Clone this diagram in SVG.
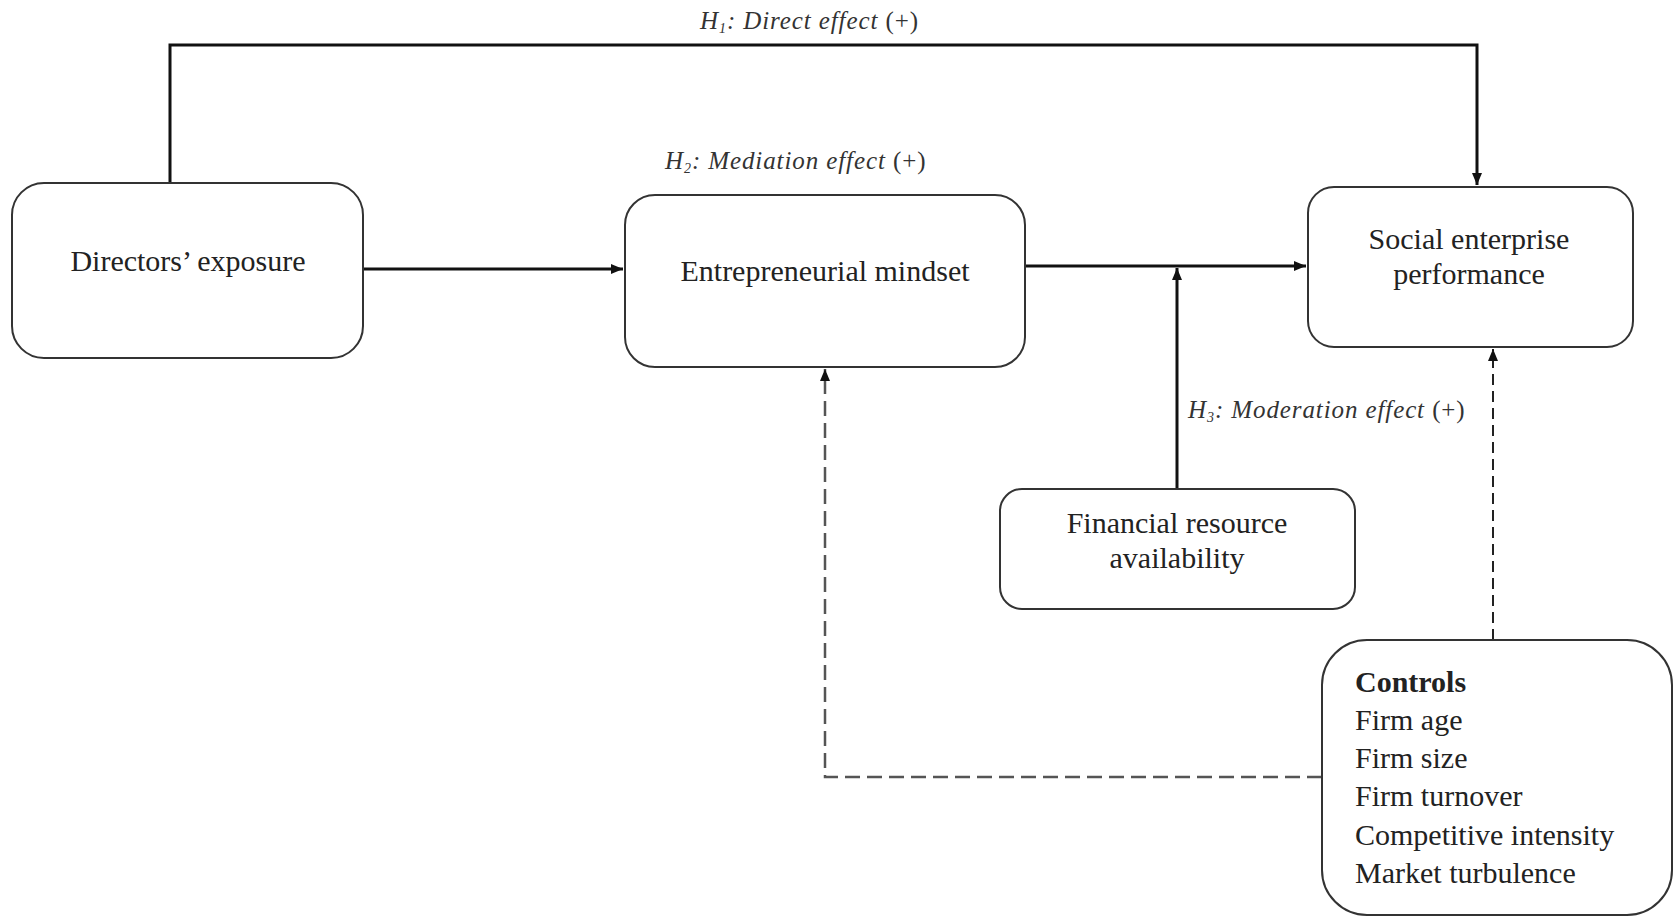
<svg xmlns="http://www.w3.org/2000/svg" width="1674" height="921" viewBox="0 0 1674 921">
<style>
.box{fill:#fff;stroke:#333;stroke-width:2}
.t{font-family:"Liberation Serif","Times New Roman",serif;font-size:30px;fill:#222}
.lab{font-family:"Liberation Serif","Times New Roman",serif;font-size:25px;fill:#333;font-style:italic;letter-spacing:0.9px}
.up{font-style:normal}
.solid{fill:none;stroke:#111;stroke-width:3}
.dash{fill:none;stroke:#555;stroke-width:2.5;stroke-dasharray:15 7}
.dash2{fill:none;stroke:#222;stroke-width:2;stroke-dasharray:11 6}
</style>
<defs>
<marker id="ah" viewBox="0 0 12 10" refX="12" refY="5" markerWidth="12" markerHeight="10" markerUnits="userSpaceOnUse" orient="auto">
<path d="M0,0 L12,5 L0,10 z" fill="#111"/>
</marker>
</defs>
<rect width="1674" height="921" fill="#fff"/>
<g id="connectors">
<path class="solid" d="M170,183 V45 H1477 V185" marker-end="url(#ah)"/>
<path class="solid" d="M363,269 H623" marker-end="url(#ah)"/>
<path class="solid" d="M1025,266 H1306" marker-end="url(#ah)"/>
<path class="solid" d="M1177,489 V268" marker-end="url(#ah)"/>
<path class="dash" d="M1322,777 H825 V369" marker-end="url(#ah)"/>
<path class="dash2" d="M1493,640 V349" marker-end="url(#ah)"/>
</g>
<g id="labels">
<text class="lab" x="700" y="29">H<tspan font-size="14" dy="4">1</tspan><tspan dy="-4">: Direct effect </tspan><tspan class="up">(+)</tspan></text>
<text class="lab" x="665" y="169">H<tspan font-size="14" dy="4">2</tspan><tspan dy="-4">: Mediation effect </tspan><tspan class="up">(+)</tspan></text>
<text class="lab" x="1188" y="418">H<tspan font-size="14" dy="4">3</tspan><tspan dy="-4">: Moderation effect </tspan><tspan class="up">(+)</tspan></text>
</g>
<g id="directors">
<rect class="box" x="12" y="183" width="351" height="175" rx="32"/>
<text class="t" x="188" y="271" text-anchor="middle">Directors’ exposure</text>
</g>
<g id="mindset">
<rect class="box" x="625" y="195" width="400" height="172" rx="30"/>
<text class="t" x="825" y="281" text-anchor="middle">Entrepreneurial mindset</text>
</g>
<g id="performance">
<rect class="box" x="1308" y="187" width="325" height="160" rx="26"/>
<text class="t" x="1469" y="249" text-anchor="middle">Social enterprise</text>
<text class="t" x="1469" y="284" text-anchor="middle">performance</text>
</g>
<g id="financial">
<rect class="box" x="1000" y="489" width="355" height="120" rx="22"/>
<text class="t" x="1177" y="533" text-anchor="middle">Financial resource</text>
<text class="t" x="1177" y="568" text-anchor="middle">availability</text>
</g>
<g id="controls">
<rect class="box" x="1322" y="640" width="350" height="275" rx="45"/>
<text class="t" x="1355" y="692" font-weight="bold">Controls</text>
<text class="t" x="1355" y="730">Firm age</text>
<text class="t" x="1355" y="768">Firm size</text>
<text class="t" x="1355" y="806">Firm turnover</text>
<text class="t" x="1355" y="845">Competitive intensity</text>
<text class="t" x="1355" y="883">Market turbulence</text>
</g>
</svg>
